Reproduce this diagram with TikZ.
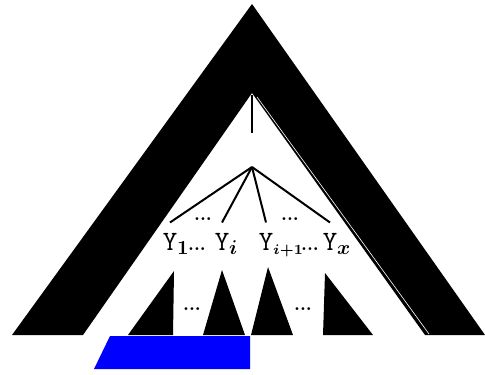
\documentclass[tikz,border=0pt]{standalone}
\usepackage{bm}
\usepackage{tikz}

\begin{document}
\begin{tikzpicture}[
    x=0.5pt, y=-0.5pt,
    band/.style={fill=black},
    subtree/.style={fill=black},
    edge/.style={draw, line width=1pt},
    ylabel/.style={inner xsep=0pt, inner ysep=5pt, anchor=base, font=\fontsize{14}{16}\selectfont\ttfamily},
    gap/.style={inner sep=0pt, anchor=base, font=\bfseries\small}
]
\useasboundingbox (0,0) rectangle (485,374);

% outer tree
\fill [band] (252,4) -- (485,335) -- (425,335) -- (252,93) -- (83,335) -- (12,335) -- cycle;
\draw [white, line width=0.3pt] (257,97) -- (429,334);

\coordinate (top) at (252,95);
\coordinate (bottom) at (252,133);
\coordinate (fork) at (252,167);
\path [edge] (top) -- (bottom);

% children
\node [ylabel] (y1) at (170,250) {Y\rlap{$_{\bm{1}}$}};
\node [ylabel] (yi) at (222,250) {Y\rlap{$_{\bm{i}}$}};
\node [ylabel] (yj) at (266,250) {Y\rlap{$_{\scriptscriptstyle\bm{i+1}}$}};
\node [ylabel] (yx) at (330,250) {Y\rlap{$_{\bm{x}}$}};
\node [gap] (d1) at (197,250) {...};
\node [gap] (d2) at (310,250) {...};
\node [gap] (u1) at (203,220) {...};
\node [gap] (u2) at (290,220) {...};

\path [edge] (fork) -- (y1.north);
\path [edge] (fork) -- (yi.north);
\path [edge] (fork) -- (yj.north);
\path [edge] (fork) -- (yx.north);

% subtrees
\fill [subtree] (174,271) -- (173,335) -- (128,335) -- cycle;
\fill [subtree] (222,270) -- (245,335) -- (203,335) -- cycle;
\fill [subtree] (268,267) -- (293,335) -- (251,335) -- cycle;
\fill [subtree] (325,273) -- (373,335) -- (323,335) -- cycle;
\node [gap] (b1) at (192,310) {...};
\node [gap] (b2) at (303,310) {...};

% highlighted span
\fill [blue] (110,336) -- (250,336) -- (250,369) -- (94,369) -- cycle;

\end{tikzpicture}
\end{document}
